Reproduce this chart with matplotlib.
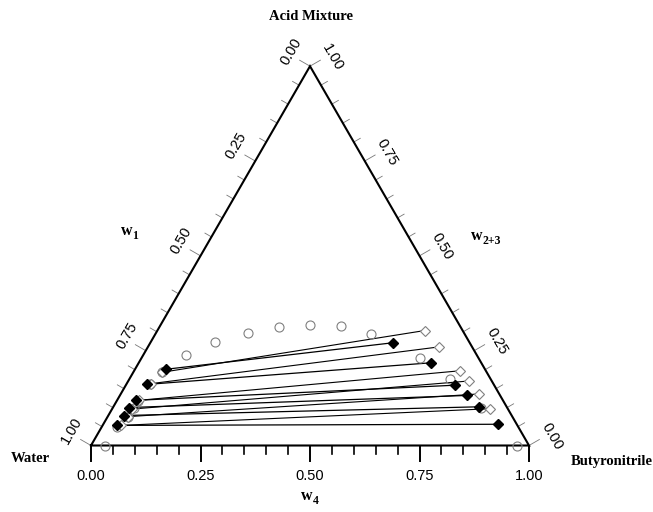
import numpy as np
import matplotlib
matplotlib.use("Agg")
import matplotlib.pyplot as plt

plt.rcParams.update({
    "font.family": ["Liberation Sans", "DejaVu Sans"],
})

# binodal curve (open circles): mass fractions w4 (butyronitrile), w2+3 (acid mixture)
binodal_w4 = [0.032, 0.036, 0.047, 0.049, 0.048, 0.054, 0.065, 0.097, 0.146, 0.210,
              0.274, 0.341, 0.413, 0.492, 0.635, 0.733, 0.841, 0.973]
binodal_w23 = [0.000, 0.049, 0.076, 0.099, 0.117, 0.162, 0.193, 0.239, 0.274, 0.297,
               0.312, 0.318, 0.315, 0.295, 0.231, 0.175, 0.098, 0.000]

# experimental tie lines (filled diamonds)
exp_left_w4 = [0.071, 0.047, 0.043, 0.036, 0.035, 0.032]
exp_left_w23 = [0.201, 0.161, 0.119, 0.100, 0.079, 0.053]
exp_right_w4 = [0.555, 0.667, 0.752, 0.793, 0.834, 0.902]
exp_right_w23 = [0.271, 0.218, 0.159, 0.132, 0.102, 0.056]

# calculated tie lines (open diamonds)
calc_left_w4 = [0.066, 0.055, 0.049, 0.046, 0.046, 0.042]
calc_left_w23 = [0.193, 0.163, 0.119, 0.096, 0.076, 0.053]
calc_right_w4 = [0.610, 0.665, 0.744, 0.777, 0.818, 0.863]
calc_right_w23 = [0.303, 0.260, 0.197, 0.170, 0.136, 0.097]

tick_vals = [0.0, 0.25, 0.5, 0.75, 1.0]
tick_labels = ["0.00", "0.25", "0.50", "0.75", "1.00"]

H = np.sqrt(3) / 2
PX = 1 / 438.0  # one pixel in data units


def tern(w4, w23):
    w4 = np.asarray(w4, dtype=float)
    w23 = np.asarray(w23, dtype=float)
    return w4 + w23 / 2, w23 * H


def px(x, y):
    # pixel position in the 653x512 image -> data coords
    return (x - 91) * PX, (445.5 - y) * PX


def wlabel(ax, x, y, sub):
    # bold serif "w" with a bold subscript
    sx, sy = px(x, y)
    ax.text(sx, sy, "w", family="Liberation Serif", fontweight="bold", fontsize=11.5,
            ha="right", va="baseline")
    ax.text(sx + 0.5 * PX, sy - 4 * PX, sub, family="Liberation Serif", fontweight="bold",
            fontsize=8.5, ha="left", va="baseline")


fig = plt.figure(figsize=(6.53, 5.12), dpi=100)
ax = fig.add_axes([0, 0, 1, 1])
ax.set_xlim(-91 * PX, 562 * PX)
ax.set_ylim(-66.5 * PX, 445.5 * PX)
ax.axis("off")

# triangle
ax.plot([0, 1, 0.5, 0], [0, 0, H, 0], color="black", lw=1.5, solid_joinstyle="miter", zorder=3)

# ticks
for i in range(21):
    v = i / 20
    major = i % 5 == 0
    # bottom (w4)
    ln = (15 if major else 8.5) * PX
    ax.plot([v, v], [0, -ln], color="black", lw=1.4 if major else 1.2, zorder=3)
    elen = (12 if major else 7.5) * PX
    # left edge (w1 = v), point at fraction (1-v) up
    x0, y0 = (1 - v) / 2, (1 - v) * H
    ax.plot([x0, x0 - elen * H], [y0, y0 + elen * 0.5], color="#777777", lw=0.6, zorder=2)
    # right edge (w2+3 = v)
    x1, y1 = 1 - v / 2, v * H
    ax.plot([x1, x1 + elen * H], [y1, y1 + elen * 0.5], color="#777777", lw=0.6, zorder=2)

perp, along = 24 * PX, 3.5 * PX
for v, lab in zip(tick_vals, tick_labels):
    ax.text(v, -30 * PX, lab, ha="center", va="center", fontsize=10.5)
    x0, y0 = (1 - v) / 2, (1 - v) * H
    ax.text(x0 - perp * H + along * 0.5, y0 + perp * 0.5 + along * H, lab,
            rotation=60, ha="center", va="center", fontsize=10.5, rotation_mode="anchor")
    x1, y1 = 1 - v / 2, v * H
    ax.text(x1 + perp * H + along * 0.5, y1 + perp * 0.5 - along * H, lab,
            rotation=-60, ha="center", va="center", fontsize=10.5, rotation_mode="anchor")

# tie lines
for i in range(len(calc_left_w4)):
    xs, ys = tern([calc_left_w4[i], calc_right_w4[i]], [calc_left_w23[i], calc_right_w23[i]])
    ax.plot(xs, ys, color="black", lw=0.8, zorder=4)
for i in range(len(exp_left_w4)):
    xs, ys = tern([exp_left_w4[i], exp_right_w4[i]], [exp_left_w23[i], exp_right_w23[i]])
    ax.plot(xs, ys, color="black", lw=0.9, zorder=4)

bx, by = tern(binodal_w4, binodal_w23)
ax.plot(bx, by, "o", ms=6.5, mfc="none", mec="#808080", mew=0.8, zorder=5)

cx, cy = tern(calc_left_w4 + calc_right_w4, calc_left_w23 + calc_right_w23)
ax.plot(cx, cy, "D", ms=5, mfc="white", mec="#808080", mew=0.8, zorder=6)

ex, ey = tern(exp_left_w4 + exp_right_w4, exp_left_w23 + exp_right_w23)
ax.plot(ex, ey, "D", ms=5.5, mfc="black", mec="black", zorder=7)

# corner and axis titles
bold = dict(family="Liberation Serif", fontweight="bold", fontsize=10.5, ha="center", va="center")
ax.text(*px(311, 16), "Acid Mixture", **bold)
ax.text(*px(30, 458), "Water", **bold)
ax.text(*px(612, 462), "Butyronitrile", **bold)
wlabel(ax, 132, 235, "1")
wlabel(ax, 482, 240, "2+3")
wlabel(ax, 312, 500, "4")

fig.savefig("out.png", dpi=100)
